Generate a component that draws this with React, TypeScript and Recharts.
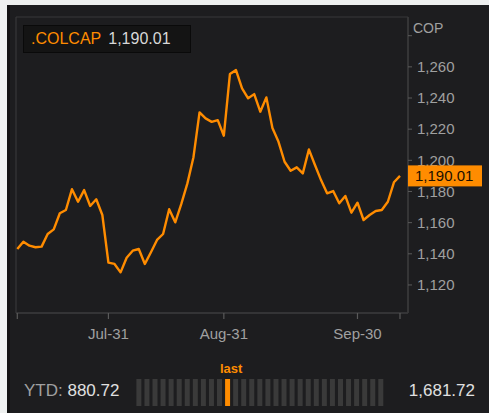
import React from 'react';
import { LineChart, Line, XAxis, YAxis, CartesianGrid, BarChart, Bar, Cell } from 'recharts';

const SERIES_NAME = '.COLCAP';
const CURRENCY = 'COP';

const dates = [
  'Jul-09', 'Jul-10', 'Jul-13', 'Jul-14', 'Jul-15', 'Jul-16', 'Jul-17', 'Jul-21', 'Jul-22', 'Jul-23',
  'Jul-24', 'Jul-27', 'Jul-28', 'Jul-29', 'Jul-30', 'Jul-31', 'Aug-03', 'Aug-04', 'Aug-05', 'Aug-06',
  'Aug-10', 'Aug-11', 'Aug-12', 'Aug-13', 'Aug-14', 'Aug-18', 'Aug-19', 'Aug-20', 'Aug-21', 'Aug-24',
  'Aug-25', 'Aug-26', 'Aug-27', 'Aug-28', 'Aug-31', 'Sep-01', 'Sep-02', 'Sep-03', 'Sep-04', 'Sep-07',
  'Sep-08', 'Sep-09', 'Sep-10', 'Sep-11', 'Sep-14', 'Sep-15', 'Sep-16', 'Sep-17', 'Sep-18', 'Sep-21',
  'Sep-22', 'Sep-23', 'Sep-24', 'Sep-25', 'Sep-28', 'Sep-29', 'Sep-30', 'Oct-01', 'Oct-02', 'Oct-05',
  'Oct-06', 'Oct-07', 'Oct-08', 'Oct-09',
];

const closes = [
  1143.1, 1147.8, 1145.2, 1144.2, 1144.6, 1152.7, 1155.7, 1166.0, 1168.1, 1181.5,
  1173.4, 1180.9, 1170.7, 1175.0, 1164.9, 1134.3, 1133.5, 1128.1, 1137.5, 1142.0,
  1143.1, 1133.5, 1141.0, 1148.9, 1152.7, 1168.6, 1160.2, 1172.0, 1185.2, 1202.0,
  1230.8, 1226.9, 1224.7, 1225.8, 1215.8, 1255.4, 1257.9, 1246.2, 1239.8, 1242.5,
  1231.2, 1240.4, 1220.7, 1211.9, 1199.1, 1193.3, 1195.5, 1191.6, 1207.0, 1197.0,
  1187.3, 1178.8, 1180.3, 1172.4, 1177.1, 1166.4, 1172.8, 1161.7, 1164.9, 1167.5,
  1168.1, 1173.4, 1185.9, 1190.01,
];

const yTicks = [1120, 1140, 1160, 1180, 1200, 1220, 1240, 1260, 1280];
const hiddenYTickLabels = [1280];
const labeledDates = ['Jul-31', 'Aug-31', 'Sep-30'];
const xTickDates = ['Jul-09', 'Jul-31', 'Aug-31', 'Sep-30', 'Oct-09'];
const yDomain = [1102, 1292];

const YTD_LOW = 880.72;
const YTD_HIGH = 1681.72;
const RANGE_SEGMENTS = 31;

const ORANGE = '#ff8c00';
const GRID = '#38383a';
const PANEL = '#1d1d1f';
const AXIS_TEXT = '#a0a0a0';
const FONT = "'Liberation Sans', Arial, Helvetica, sans-serif";

const data = dates.map((d, i) => ({ date: d, close: closes[i] }));
const last = closes[closes.length - 1];
const lastSeg = Math.min(
  RANGE_SEGMENTS - 1,
  Math.floor(((last - YTD_LOW) / (YTD_HIGH - YTD_LOW)) * RANGE_SEGMENTS)
);
const segments = Array.from({ length: RANGE_SEGMENTS }, (_, i) => ({ seg: i, v: 1 }));

const fmt = (v: number, d: number) =>
  v.toLocaleString('en-US', { minimumFractionDigits: d, maximumFractionDigits: d });

const YTick = (props: any) => {
  const { x, y, payload } = props;
  const v = payload.value;
  if (v === last) {
    return (
      <g>
        <rect x={x - 9} y={y - 10.5} width={74} height={21} fill={ORANGE} />
        <text x={x - 2} y={y} dy="0.355em" fill="#1a0f00" fontSize={15} fontFamily={FONT}>
          {fmt(v, 2)}
        </text>
      </g>
    );
  }
  if (hiddenYTickLabels.includes(v)) return <g />;
  return (
    <text x={x} y={y} dy="0.355em" textAnchor="start" fill={AXIS_TEXT} fontSize={15} fontFamily={FONT}>
      {fmt(v, 0)}
    </text>
  );
};

const XTick = (props: any) => {
  const { x, y, payload } = props;
  if (!labeledDates.includes(payload.value)) return <g />;
  return (
    <text x={x} y={y} dy="0.71em" textAnchor="middle" fill={AXIS_TEXT} fontSize={15} fontFamily={FONT}>
      {payload.value}
    </text>
  );
};

const LastLabel = (props: any) => {
  const { x, y, width, index } = props;
  if (index !== lastSeg) return null;
  return (
    <text x={x + width / 2 + 3.5} y={y - 6} textAnchor="middle" fill={ORANGE} fontSize={13} fontWeight="bold" fontFamily={FONT}>
      last
    </text>
  );
};

export default function App() {
  return (
    <div style={{ position: 'absolute', left: 0, top: 0, width: 489, height: 413, background: '#eef0ef', overflow: 'hidden', fontFamily: FONT }}>
      <div style={{ position: 'absolute', left: 7, top: 5, width: 482, height: 408, background: PANEL, borderLeft: '3px solid #121212', boxSizing: 'border-box' }} />
      <div style={{ position: 'absolute', left: 0, top: 0 }}>
        <LineChart width={489} height={345} data={data} margin={{ top: 17, right: 0, bottom: 2, left: 16 }}>
          <CartesianGrid xAxisId="top" yAxisId="left" stroke={GRID} strokeWidth={1.2} />
          <XAxis
            dataKey="date"
            ticks={xTickDates}
            interval={0}
            height={30}
            tickSize={6}
            tickMargin={9}
            padding={{ left: 1.3, right: 8 }}
            axisLine={{ stroke: GRID, strokeWidth: 1.5 }}
            tickLine={{ stroke: '#5a5a5a', strokeWidth: 1.2 }}
            tick={<XTick />}
          />
          <XAxis
            xAxisId="top"
            orientation="top"
            dataKey="date"
            ticks={labeledDates}
            interval={0}
            height={0}
            padding={{ left: 1.3, right: 8 }}
            axisLine={{ stroke: GRID, strokeWidth: 1.5 }}
            tick={false}
            tickLine={false}
          />
          <YAxis
            orientation="right"
            width={81}
            domain={yDomain}
            allowDataOverflow
            ticks={[...yTicks, last]}
            interval={0}
            tickSize={4}
            tickMargin={5}
            axisLine={{ stroke: GRID, strokeWidth: 1.5 }}
            tickLine={{ stroke: '#5a5a5a' }}
            tick={<YTick />}
          />
          <YAxis
            yAxisId="left"
            orientation="left"
            width={0}
            domain={yDomain}
            allowDataOverflow
            ticks={yTicks}
            interval={0}
            tick={false}
            tickLine={false}
            axisLine={{ stroke: GRID, strokeWidth: 1.5 }}
          />
          <Line
            type="linear"
            dataKey="close"
            name={SERIES_NAME}
            stroke={ORANGE}
            strokeWidth={2.4}
            strokeLinejoin="round"
            dot={false}
            isAnimationActive={false}
          />
        </LineChart>
      </div>

      <div style={{ position: 'absolute', left: 413, top: 20, fontSize: 14, color: AXIS_TEXT }}>{CURRENCY}</div>

      <div style={{ position: 'absolute', left: 23, top: 25, width: 168, height: 28, boxSizing: 'border-box', background: '#141414', border: '1px solid #0a0a0a', fontSize: 16, lineHeight: '26px', paddingLeft: 7, whiteSpace: 'nowrap' }}>
        <span style={{ color: ORANGE }}>{SERIES_NAME}</span>
        <span style={{ color: '#d8d8d8', marginLeft: 7 }}>{fmt(last, 2)}</span>
      </div>

      <div style={{ position: 'absolute', left: 24, top: 381, fontSize: 17, lineHeight: '20px', whiteSpace: 'nowrap' }}>
        <span style={{ color: AXIS_TEXT }}>YTD: </span>
        <span style={{ color: '#e0e0e0' }}>{fmt(YTD_LOW, 2)}</span>
      </div>
      <div style={{ position: 'absolute', right: 14, top: 381, fontSize: 17, lineHeight: '20px', color: '#e0e0e0', whiteSpace: 'nowrap' }}>
        {fmt(YTD_HIGH, 2)}
      </div>

      <div style={{ position: 'absolute', left: 135, top: 360 }}>
        <BarChart width={250} height={46} data={segments} margin={{ top: 19, right: 0, bottom: 0, left: 0 }} barCategoryGap="17%">
          <XAxis dataKey="seg" hide />
          <YAxis hide domain={[0, 1]} />
          <Bar dataKey="v" isAnimationActive={false} label={<LastLabel />}>
            {segments.map((s) => (
              <Cell key={s.seg} fill={s.seg === lastSeg ? ORANGE : '#3a3a3a'} />
            ))}
          </Bar>
        </BarChart>
      </div>
    </div>
  );
}
